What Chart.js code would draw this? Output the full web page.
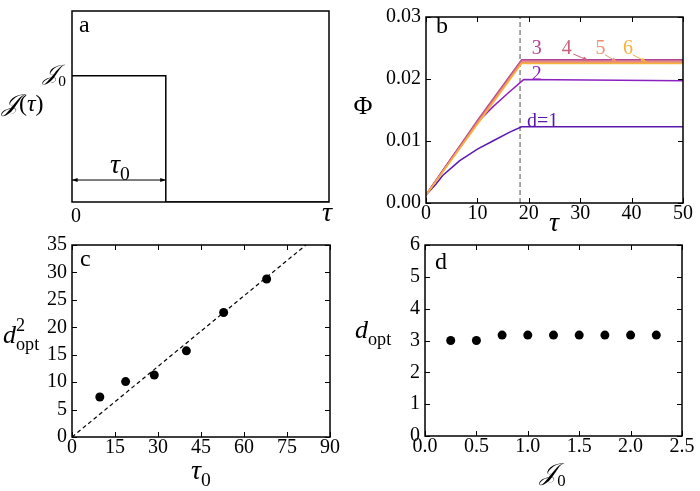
<!DOCTYPE html>
<html>
<head>
<meta charset="utf-8">
<script src="https://cdn.jsdelivr.net/npm/chart.js@4.4.1/dist/chart.umd.min.js"></script>
<style>
  html, body { margin: 0; padding: 0; background: #fff; }
  #wrap { position: relative; width: 700px; height: 491px; }
  #wrap canvas { position: absolute; left: 0; top: 0; }
</style>
</head>
<body>
<div id="wrap">
  <canvas id="pa" width="700" height="491"></canvas>
  <canvas id="pb" width="700" height="491"></canvas>
  <canvas id="pc" width="700" height="491"></canvas>
  <canvas id="pd" width="700" height="491"></canvas>
</div>
<script>
// ---- data ----
// a: schematic pulse J(tau)
const pulseTau = [0, 1, 1, 2.74];
const pulseJ = [1, 1, 0, 0];

// b: Phi(tau) for d = 1..6
const tauD1 = [0, 2, 3.2, 6.5, 10, 13, 16.2, 18.6, 50];
const phiD1 = [0.0013, 0.0031, 0.0044, 0.0068, 0.0087, 0.0100, 0.0114, 0.0123, 0.0123];
const tauD2 = [0, 5, 10, 13, 16.2, 19, 50];
const phiD2 = [0.0013, 0.0073, 0.0130, 0.0155, 0.0179, 0.0199, 0.0197];
const tauTop = [0, 10, 18.6, 50];
const phiD3 = [0.0013, 0.0133, 0.0231, 0.0231];
const phiD4 = [0.0013, 0.0131, 0.0229, 0.0229];
const phiD5 = [0.0013, 0.0129, 0.0227, 0.0227];
const phiD6 = [0.0013, 0.0127, 0.0225, 0.0225];
const tauCut = 18.3;

// c: d_opt^2 vs tau_0
const tau0Vals = [9.7, 18.7, 28.7, 39.9, 52.9, 67.9];
const dOptSq = [7.3, 10.1, 11.3, 15.7, 22.7, 28.8];
const fitTau = [0, 81.6];
const fitDsq = [0, 35];

// d: d_opt vs J_0
const j0Vals = [0.25, 0.5, 0.75, 1.0, 1.25, 1.5, 1.75, 2.0, 2.25];
const dOpt = [3.0, 3.0, 3.17, 3.17, 3.17, 3.17, 3.17, 3.17, 3.17];

const LINE_COLORS = ['#5b17b0', '#8b22c0', '#b04598', '#cc5f7d', '#ee9070', '#f5b23a'];
const FONT = '"Liberation Serif", "DejaVu Serif", serif';
const CAL_J = '\u{1D4A5}';

const pts = (xs, ys) => xs.map((x, i) => ({ x, y: ys[i] }));

// rich text: parts {t, it, sub, sup, over}
function drawRich(ctx, parts, x, y, size, align, color) {
  const laid = [];
  let cur = 0, prevStart = 0;
  parts.forEach(p => {
    const fs = (p.sub || p.sup) ? size * 0.7 : size;
    const font = (p.it ? 'italic ' : '') + fs + 'px ' + FONT;
    ctx.font = font;
    const w = ctx.measureText(p.t).width;
    const start = p.over ? prevStart : cur;
    laid.push({ p, font, start });
    cur = Math.max(cur, start + w);
    prevStart = start;
  });
  const x0 = align === 'right' ? x - cur : align === 'left' ? x : x - cur / 2;
  ctx.fillStyle = color || '#000';
  ctx.textBaseline = 'alphabetic';
  ctx.textAlign = 'left';
  laid.forEach(l => {
    ctx.font = l.font;
    let dy = 0;
    if (l.p.sub) dy = size * 0.25;
    if (l.p.sup) dy = -size * 0.45;
    ctx.fillText(l.p.t, x0 + l.start, y + dy);
  });
}

function drawArrow(ctx, x1, y1, x2, y2, color, both) {
  const head = (xa, ya, xb, yb) => {
    const a = Math.atan2(yb - ya, xb - xa);
    ctx.beginPath();
    ctx.moveTo(xb, yb);
    ctx.lineTo(xb - 6 * Math.cos(a - 0.35), yb - 6 * Math.sin(a - 0.35));
    ctx.lineTo(xb - 6 * Math.cos(a + 0.35), yb - 6 * Math.sin(a + 0.35));
    ctx.closePath();
    ctx.fill();
  };
  ctx.strokeStyle = color; ctx.fillStyle = color; ctx.lineWidth = 1;
  ctx.beginPath(); ctx.moveTo(x1, y1); ctx.lineTo(x2, y2); ctx.stroke();
  head(x1, y1, x2, y2);
  if (both) head(x2, y2, x1, y1);
}

// frame, inward ticks, labels and arrows
const decoPlugin = {
  id: 'deco',
  afterDraw(chart, args, opts) {
    const ctx = chart.ctx, a = chart.chartArea;
    const xs = chart.scales.x, ys = chart.scales.y;
    ctx.save();
    if (opts.ticks) {
      ctx.strokeStyle = '#000'; ctx.lineWidth = 1;
      ctx.beginPath();
      xs.ticks.forEach(t => {
        const p = Math.round(xs.getPixelForValue(t.value)) + 0.5;
        ctx.moveTo(p, a.bottom); ctx.lineTo(p, a.bottom - 5);
        ctx.moveTo(p, a.top); ctx.lineTo(p, a.top + 5);
      });
      ys.ticks.forEach(t => {
        const p = Math.round(ys.getPixelForValue(t.value)) + 0.5;
        ctx.moveTo(a.left, p); ctx.lineTo(a.left + 5, p);
        ctx.moveTo(a.right, p); ctx.lineTo(a.right - 5, p);
      });
      ctx.stroke();
    }
    ctx.strokeStyle = '#000'; ctx.lineWidth = 1.5;
    ctx.strokeRect(a.left, a.top, a.right - a.left, a.bottom - a.top);
    (opts.arrows || []).forEach(ar => {
      drawArrow(ctx, xs.getPixelForValue(ar.from[0]), ys.getPixelForValue(ar.from[1]),
        xs.getPixelForValue(ar.to[0]), ys.getPixelForValue(ar.to[1]), ar.color || '#000', ar.both);
    });
    (opts.texts || []).forEach(tx => {
      let x = tx.x, y = tx.y;
      if (tx.data) { x = xs.getPixelForValue(tx.data[0]); y = ys.getPixelForValue(tx.data[1]); }
      drawRich(ctx, tx.parts, x, y, tx.size, tx.align || 'center', tx.color);
    });
    ctx.restore();
  }
};
Chart.register(decoPlugin);

const Y_W = 70, X_H = 40;
function makeOptions(box, xo, yo, deco) {
  const tickFont = { family: FONT, size: 20 };
  return {
    responsive: false,
    animation: false,
    devicePixelRatio: 1,
    layout: { padding: { left: box[0] - Y_W, right: 700 - box[1], top: box[2], bottom: 491 - box[3] - X_H } },
    plugins: { legend: { display: false }, tooltip: { enabled: false }, deco },
    elements: { point: { radius: 0 } },
    scales: {
      x: {
        type: 'linear', min: xo.min, max: xo.max,
        afterFit: s => { s.height = X_H; },
        grid: { display: false, drawTicks: false }, border: { display: false },
        ticks: { display: xo.show !== false, stepSize: xo.step, padding: -1, color: '#000', font: tickFont,
          maxRotation: 0, autoSkip: false, callback: xo.fmt || (v => String(v)) },
      },
      y: {
        type: 'linear', min: yo.min, max: yo.max,
        afterFit: s => { s.width = Y_W; },
        grid: { display: false, drawTicks: false }, border: { display: false },
        ticks: { display: yo.show !== false, stepSize: yo.step, padding: 5, color: '#000', font: tickFont,
          autoSkip: false, callback: yo.fmt || (v => String(v)) },
      },
    },
  };
}

// ---- panel a ----
new Chart(document.getElementById('pa'), {
  type: 'line',
  data: { datasets: [{ data: pts(pulseTau, pulseJ), borderColor: '#000', borderWidth: 1.5, tension: 0 }] },
  options: makeOptions([72, 329, 11, 202], { min: 0, max: 2.74, step: 1, show: false }, { min: 0, max: 1.512, step: 1, show: false }, {
    ticks: false,
    arrows: [{ from: [0, 0.174], to: [1, 0.174], both: true }],
    texts: [
      { x: 79, y: 32, size: 24, align: 'left', parts: [{ t: 'a' }] },
      { x: 66, y: 80, size: 22, align: 'right', parts: [{ t: CAL_J, it: true }, { t: '0', sub: true }] },
      { x: 2, y: 111, size: 24, align: 'left', parts: [{ t: CAL_J, it: true }, { t: '(' }, { t: 'τ', it: true }, { t: ')' }] },
      { x: 76, y: 222, size: 20, parts: [{ t: '0' }] },
      { x: 327, y: 221, size: 28, parts: [{ t: 'τ', it: true }] },
      { x: 120, y: 173, size: 28, parts: [{ t: 'τ', it: true }, { t: '0', sub: true }] },
    ],
  }),
});

// ---- panel b ----
const bLabels = ['d=1', '2', '3', '4', '5', '6'];
new Chart(document.getElementById('pb'), {
  type: 'line',
  data: {
    datasets: [
      { data: pts(tauTop, phiD6), borderColor: LINE_COLORS[5], borderWidth: 1.5, tension: 0 },
      { data: pts(tauTop, phiD5), borderColor: LINE_COLORS[4], borderWidth: 1.5, tension: 0 },
      { data: pts(tauTop, phiD4), borderColor: LINE_COLORS[3], borderWidth: 1.5, tension: 0 },
      { data: pts(tauTop, phiD3), borderColor: LINE_COLORS[2], borderWidth: 1.5, tension: 0 },
      { data: pts(tauD2, phiD2), borderColor: LINE_COLORS[1], borderWidth: 1.5, tension: 0 },
      { data: pts(tauD1, phiD1), borderColor: LINE_COLORS[0], borderWidth: 1.5, tension: 0 },
      { data: pts([tauCut, tauCut], [0, 0.03]), borderColor: '#8a8a8a', borderWidth: 1.5, borderDash: [5, 3], tension: 0 },
    ],
  },
  options: makeOptions([426, 683, 12, 203], { min: 0, max: 50, step: 10 }, { min: 0, max: 0.03, step: 0.01, fmt: v => v.toFixed(2) }, {
    ticks: true,
    arrows: [
      { from: [28.66, 0.02403], to: [31.58, 0.02298], color: LINE_COLORS[3] },
      { from: [34.82, 0.02392], to: [37.22, 0.02273], color: LINE_COLORS[4] },
      { from: [40.21, 0.02392], to: [42.94, 0.02273], color: LINE_COLORS[5] },
    ],
    texts: [
      { x: 436, y: 33, size: 24, align: 'left', parts: [{ t: 'b' }] },
      { x: 363, y: 114, size: 26, parts: [{ t: 'Φ' }] },
      { x: 554, y: 231, size: 28, parts: [{ t: 'τ', it: true }] },
      { data: [22.67, 0.01225], size: 20, color: LINE_COLORS[0], parts: [{ t: bLabels[0] }] },
      { data: [21.54, 0.01979], size: 20, color: LINE_COLORS[1], parts: [{ t: bLabels[1] }] },
      { data: [21.54, 0.02403], size: 20, color: LINE_COLORS[2], parts: [{ t: bLabels[2] }] },
      { data: [27.37, 0.02403], size: 20, color: LINE_COLORS[3], parts: [{ t: bLabels[3] }] },
      { data: [33.95, 0.02403], size: 20, color: LINE_COLORS[4], parts: [{ t: bLabels[4] }] },
      { data: [39.3, 0.02403], size: 20, color: LINE_COLORS[5], parts: [{ t: bLabels[5] }] },
    ],
  }),
});

// ---- panel c ----
new Chart(document.getElementById('pc'), {
  type: 'line',
  data: {
    datasets: [
      { data: pts(tau0Vals, dOptSq), showLine: false, pointRadius: 4.5, pointBackgroundColor: '#000', pointBorderWidth: 0 },
      { data: pts(fitTau, fitDsq), borderColor: '#000', borderWidth: 1.2, borderDash: [4, 3], tension: 0 },
    ],
  },
  options: makeOptions([72, 330, 245, 437], { min: 0, max: 90, step: 15 }, { min: 0, max: 35, step: 5 }, {
    ticks: true,
    texts: [
      { x: 80, y: 266, size: 24, align: 'left', parts: [{ t: 'c' }] },
      { x: 3, y: 343, size: 26, align: 'left', parts: [{ t: 'd', it: true }, { t: '2', sup: true }, { t: 'opt', sub: true, over: true }] },
      { x: 201, y: 479, size: 28, parts: [{ t: 'τ', it: true }, { t: '0', sub: true }] },
    ],
  }),
});

// ---- panel d ----
new Chart(document.getElementById('pd'), {
  type: 'line',
  data: {
    datasets: [
      { data: pts(j0Vals, dOpt), showLine: false, pointRadius: 4.5, pointBackgroundColor: '#000', pointBorderWidth: 0 },
    ],
  },
  options: makeOptions([425, 682, 245, 436], { min: 0, max: 2.5, step: 0.5, fmt: v => v.toFixed(1) }, { min: 0, max: 6, step: 1 }, {
    ticks: true,
    texts: [
      { x: 435, y: 269, size: 24, align: 'left', parts: [{ t: 'd' }] },
      { x: 355, y: 338, size: 26, align: 'left', parts: [{ t: 'd', it: true }, { t: 'opt', sub: true }] },
      { x: 553, y: 480, size: 24, parts: [{ t: CAL_J, it: true }, { t: '0', sub: true }] },
    ],
  }),
});
</script>
</body>
</html>
